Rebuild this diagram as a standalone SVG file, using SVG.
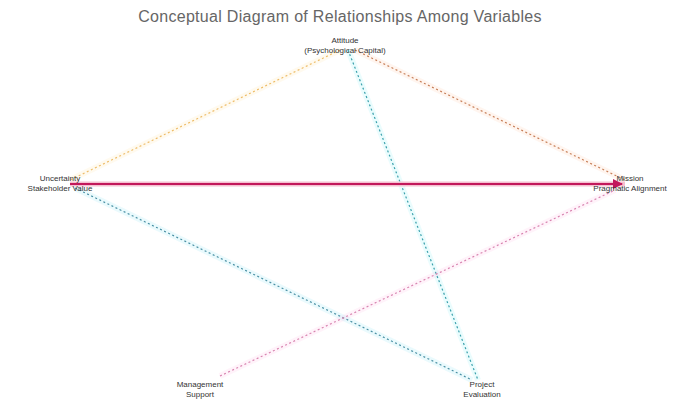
<svg xmlns="http://www.w3.org/2000/svg" width="677" height="405" viewBox="0 0 677 405">
<defs>
<style>
.t{font-family:"Liberation Sans",Arial,sans-serif;fill:#444;}
.title{font-size:16px;fill:#666;letter-spacing:0.3px;}
.lbl{font-size:8px;fill:#333;text-anchor:middle;}
.halo{fill:none;stroke-width:6;stroke-opacity:0.1;}
.dot{fill:none;stroke-width:1.2;stroke-dasharray:2 2.5;}
</style>
<marker id="arr" viewBox="0 0 10 10" refX="9" refY="5" markerWidth="5" markerHeight="5" orient="auto"><path d="M0,0L10,5L0,10z" fill="#c2185b"/></marker>
</defs>
<rect width="677" height="405" fill="#fff"/>
<text class="t title" x="340" y="22" text-anchor="middle">Conceptual Diagram of Relationships Among Variables</text>
<g id="connectors">
<line class="halo" stroke="#ffcc66" x1="340" y1="50" x2="70" y2="180"/>
<line class="dot" stroke="#eebd6a" x1="340" y1="50" x2="70" y2="180"/>
<line class="halo" stroke="#ff9966" x1="355" y1="50" x2="625" y2="180"/>
<line class="dot" stroke="#c8805a" x1="355" y1="50" x2="625" y2="180"/>
<line class="halo" stroke="#33ddee" x1="348" y1="50" x2="478" y2="380"/>
<line class="dot" stroke="#3aa0ac" x1="348" y1="50" x2="478" y2="380"/>
<line class="halo" stroke="#33ccee" x1="75" y1="188" x2="472" y2="380"/>
<line class="dot" stroke="#4a90a4" x1="75" y1="188" x2="472" y2="380"/>
<line class="halo" stroke="#ff88cc" x1="220" y1="376" x2="615" y2="190"/>
<line class="dot" stroke="#d884b0" x1="220" y1="376" x2="615" y2="190"/>
<line stroke="#f5c0d0" stroke-width="5" x1="70" y1="184" x2="625" y2="184"/>
<line stroke="#c2185b" stroke-width="2" x1="70" y1="184" x2="622" y2="184" marker-end="url(#arr)"/>
</g>
<g id="n-top"><text class="t lbl" x="345" y="43">Attitude</text><text class="t lbl" x="345" y="53">(Psychological Capital)</text></g>
<g id="n-left"><text class="t lbl" x="60" y="181">Uncertainty</text><text class="t lbl" x="60" y="191">Stakeholder Value</text></g>
<g id="n-right"><text class="t lbl" x="630" y="181">Mission</text><text class="t lbl" x="630" y="191">Pragmatic Alignment</text></g>
<g id="n-bl"><text class="t lbl" x="200" y="387">Management</text><text class="t lbl" x="200" y="397">Support</text></g>
<g id="n-br"><text class="t lbl" x="482" y="387">Project</text><text class="t lbl" x="482" y="397">Evaluation</text></g>
</svg>
